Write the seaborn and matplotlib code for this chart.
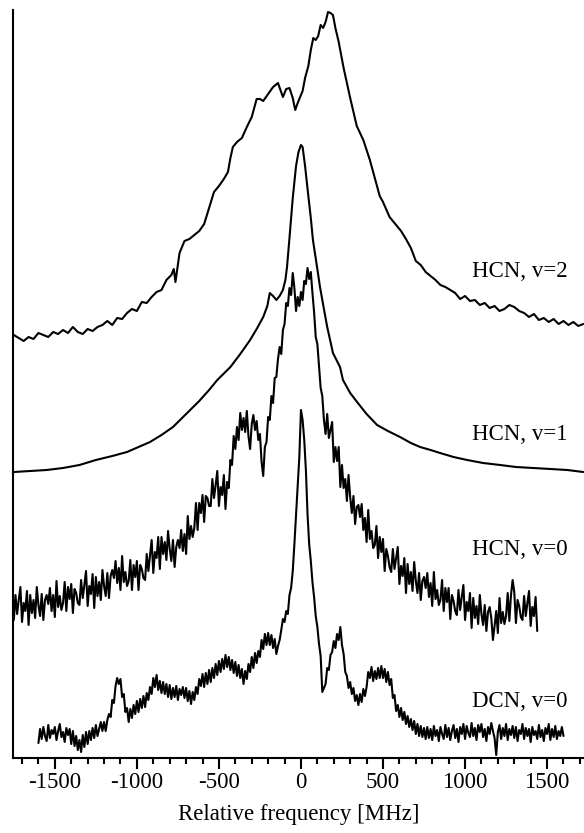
import matplotlib
matplotlib.use("Agg")
import matplotlib.pyplot as plt
import seaborn as sns
from matplotlib.ticker import MultipleLocator

# Spectra: frequency in MHz, intensity in arbitrary units
# (each trace already carries its vertical offset)

# HCN, v=2
v2_freq = [-1750, -1720, -1690, -1660, -1630, -1600, -1570, -1540, -1510, -1480,
           -1450, -1420, -1390, -1360, -1330, -1300, -1270, -1240, -1210, -1180,
           -1150, -1120, -1090, -1060, -1030, -1000, -970, -940, -910, -880,
           -850, -820, -790, -775, -765, -740, -710, -680, -650, -620,
           -590, -560, -530, -500, -470, -445, -430, -415, -390, -360,
           -330, -300, -270, -250, -230, -200, -170, -140, -110, -90,
           -70, -50, -35, -20, -5, 10, 25, 45, 60, 75,
           90, 105, 120, 135, 150, 165, 180, 195, 210, 230,
           260, 300, 340, 380, 420, 460, 480, 500, 540, 580,
           610, 640, 670, 700, 730, 760, 790, 820, 850, 880,
           910, 940, 970, 1000, 1030, 1060, 1090, 1120, 1150, 1180,
           1210, 1240, 1270, 1300, 1330, 1360, 1390, 1420, 1450, 1480,
           1510, 1540, 1570, 1600, 1630, 1660, 1690, 1720]
v2_int = [423, 420, 417, 421, 419, 425, 423, 421, 426, 424,
          428, 425, 431, 426, 424, 429, 427, 431, 433, 437,
          433, 440, 439, 445, 449, 447, 456, 455, 461, 466,
          468, 478, 483, 489, 476, 505, 517, 519, 523, 527,
          534, 550, 566, 572, 579, 586, 600, 611, 616, 620,
          631, 641, 659, 659, 657, 664, 671, 675, 661, 669,
          670, 660, 648, 655, 661, 667, 680, 692, 708, 720,
          718, 722, 733, 730, 736, 746, 745, 743, 730, 716,
          690, 660, 632, 618, 598, 574, 562, 556, 541, 533,
          527, 519, 510, 497, 493, 486, 482, 478, 473, 471,
          468, 465, 459, 462, 457, 458, 453, 455, 450, 452,
          447, 449, 453, 451, 447, 445, 441, 444, 438, 440,
          436, 439, 434, 437, 433, 436, 432, 434]

# HCN, v=1
v1_freq = [-1750, -1650, -1550, -1450, -1350, -1250, -1150, -1060, -990, -920,
           -850, -780, -700, -620, -560, -510, -430, -370, -310, -270,
           -230, -205, -190, -170, -150, -130, -110, -95, -85, -70,
           -50, -30, -15, 0, 10, 25, 45, 60, 73, 98,
           116, 140, 160, 195, 238, 256, 300, 342, 400, 464,
           530, 604, 670, 726, 790, 848, 930, 1013, 1110, 1214,
           1310, 1415, 1520, 1623, 1720]
v1_int = [286, 287, 288, 290, 293, 298, 302, 306, 311, 316,
          323, 331, 344, 357, 368, 378, 391, 404, 418, 429,
          441, 452, 465, 462, 458, 462, 468, 478, 491, 520,
          560, 592, 606, 613, 611, 592, 562, 540, 518, 491,
          471, 449, 431, 405, 391, 378, 365, 356, 344, 333,
          327, 321, 315, 311, 308, 305, 301, 298, 295, 293,
          291, 290, 289, 288, 286]

# HCN, v=0
v0_freq = [-1750, -1740, -1730, -1720, -1710, -1700, -1690, -1680, -1670, -1660,
           -1650, -1640, -1630, -1620, -1610, -1600, -1590, -1580, -1570, -1560,
           -1550, -1540, -1530, -1520, -1510, -1500, -1490, -1480, -1470, -1460,
           -1450, -1440, -1430, -1420, -1410, -1400, -1390, -1380, -1370, -1360,
           -1350, -1340, -1330, -1320, -1310, -1300, -1290, -1280, -1270, -1260,
           -1250, -1240, -1230, -1220, -1210, -1200, -1190, -1180, -1170, -1160,
           -1150, -1140, -1130, -1120, -1110, -1100, -1090, -1080, -1070, -1060,
           -1050, -1040, -1030, -1020, -1010, -1000, -990, -980, -970, -960,
           -950, -940, -930, -920, -910, -900, -890, -880, -870, -860,
           -850, -840, -830, -820, -810, -800, -790, -780, -770, -760,
           -750, -740, -730, -720, -710, -700, -690, -680, -670, -660,
           -650, -640, -630, -620, -610, -600, -590, -580, -570, -560,
           -550, -540, -530, -520, -510, -500, -490, -480, -470, -460,
           -450, -440, -430, -420, -410, -400, -390, -380, -370, -360,
           -350, -340, -330, -320, -310, -300, -290, -280, -270, -260,
           -250, -240, -230, -220, -210, -200, -190, -180, -170, -160,
           -150, -140, -130, -120, -110, -100, -90, -80, -70, -60,
           -50, -40, -30, -20, -10, 0, 10, 20, 30, 40,
           50, 60, 70, 80, 90, 100, 110, 120, 130, 140,
           150, 160, 170, 180, 190, 200, 210, 220, 230, 240,
           250, 260, 270, 280, 290, 300, 310, 320, 330, 340,
           350, 360, 370, 380, 390, 400, 410, 420, 430, 440,
           450, 460, 470, 480, 490, 500, 510, 520, 530, 540,
           550, 560, 570, 580, 590, 600, 610, 620, 630, 640,
           650, 660, 670, 680, 690, 700, 710, 720, 730, 740,
           750, 760, 770, 780, 790, 800, 810, 820, 830, 840,
           850, 860, 870, 880, 890, 900, 910, 920, 930, 940,
           950, 960, 970, 980, 990, 1000, 1010, 1020, 1030, 1040,
           1050, 1060, 1070, 1080, 1090, 1100, 1110, 1120, 1130, 1140,
           1150, 1160, 1170, 1180, 1190, 1200, 1210, 1220, 1230, 1240,
           1250, 1260, 1270, 1280, 1290, 1300, 1310, 1320, 1330, 1340,
           1350, 1360, 1370, 1380, 1390, 1400, 1410, 1420, 1430, 1440]
v0_int = [138, 163, 144, 158, 171, 136, 155, 147, 167, 133,
          163, 145, 158, 140, 171, 153, 142, 164, 138, 158,
          163, 154, 170, 147, 163, 141, 177, 151, 162, 148,
          155, 176, 147, 171, 159, 174, 145, 169, 165, 155,
          153, 178, 160, 173, 187, 152, 172, 164, 184, 150,
          181, 162, 176, 158, 188, 172, 162, 185, 160, 182,
          188, 180, 197, 175, 190, 168, 202, 176, 186, 172,
          177, 198, 168, 193, 181, 197, 168, 193, 189, 180,
          178, 204, 187, 202, 218, 185, 206, 200, 221, 189,
          221, 204, 216, 198, 227, 209, 197, 218, 191, 211,
          218, 210, 228, 207, 224, 204, 242, 219, 232, 221,
          230, 255, 228, 255, 245, 263, 236, 262, 260, 252,
          252, 279, 260, 273, 287, 252, 271, 263, 283, 249,
          276, 270, 298, 293, 322, 309, 331, 318, 345, 328,
          340, 326, 347, 322, 309, 334, 343, 328, 337, 318,
          324, 296, 282, 311, 316, 341, 338, 362, 355, 380,
          381, 399, 411, 404, 428, 434, 455, 452, 470, 463,
          485, 470, 447, 461, 452, 466, 458, 477, 474, 490,
          479, 486, 465, 446, 421, 414, 392, 370, 362, 338,
          324, 344, 320, 328, 336, 296, 311, 297, 311, 271,
          293, 270, 279, 257, 283, 261, 245, 262, 234, 251,
          253, 241, 254, 228, 240, 216, 248, 219, 227, 210,
          213, 232, 200, 221, 206, 219, 187, 209, 202, 191,
          186, 209, 189, 200, 211, 174, 192, 182, 200, 165,
          194, 174, 186, 167, 196, 177, 165, 185, 158, 177,
          181, 170, 185, 161, 175, 152, 186, 159, 168, 153,
          158, 178, 147, 170, 156, 170, 139, 163, 157, 147,
          143, 168, 148, 161, 173, 138, 156, 147, 165, 130,
          160, 140, 152, 134, 163, 144, 133, 153, 127, 146,
          151, 140, 118, 132, 147, 125, 160, 135, 146, 134,
          142, 165, 137, 163, 178, 166, 135, 158, 152, 141,
          138, 162, 142, 155, 167, 132, 151, 142, 161, 127]

# DCN, v=0
dcn_freq = [-1600, -1590, -1580, -1570, -1560, -1550, -1540, -1530, -1520, -1510,
            -1500, -1490, -1480, -1470, -1460, -1450, -1440, -1430, -1420, -1410,
            -1400, -1390, -1380, -1370, -1360, -1350, -1340, -1330, -1320, -1310,
            -1300, -1290, -1280, -1270, -1260, -1250, -1240, -1230, -1220, -1210,
            -1200, -1190, -1180, -1170, -1160, -1150, -1140, -1130, -1120, -1110,
            -1100, -1090, -1080, -1070, -1060, -1050, -1040, -1030, -1020, -1010,
            -1000, -990, -980, -970, -960, -950, -940, -930, -920, -910,
            -900, -890, -880, -870, -860, -850, -840, -830, -820, -810,
            -800, -790, -780, -770, -760, -750, -740, -730, -720, -710,
            -700, -690, -680, -670, -660, -650, -640, -630, -620, -610,
            -600, -590, -580, -570, -560, -550, -540, -530, -520, -510,
            -500, -490, -480, -470, -460, -450, -440, -430, -420, -410,
            -400, -390, -380, -370, -360, -350, -340, -330, -320, -310,
            -300, -290, -280, -270, -260, -250, -240, -230, -220, -210,
            -200, -190, -180, -170, -160, -150, -140, -130, -120, -110,
            -100, -90, -80, -70, -60, -50, -40, -30, -20, -10,
            0, 10, 20, 30, 40, 50, 60, 70, 80, 90,
            100, 110, 120, 130, 140, 150, 160, 170, 180, 190,
            200, 210, 220, 230, 240, 250, 260, 270, 280, 290,
            300, 310, 320, 330, 340, 350, 360, 370, 380, 390,
            400, 410, 420, 430, 440, 450, 460, 470, 480, 490,
            500, 510, 520, 530, 540, 550, 560, 570, 580, 590,
            600, 610, 620, 630, 640, 650, 660, 670, 680, 690,
            700, 710, 720, 730, 740, 750, 760, 770, 780, 790,
            800, 810, 820, 830, 840, 850, 860, 870, 880, 890,
            900, 910, 920, 930, 940, 950, 960, 970, 980, 990,
            1000, 1010, 1020, 1030, 1040, 1050, 1060, 1070, 1080, 1090,
            1100, 1110, 1120, 1130, 1140, 1150, 1160, 1170, 1180, 1190,
            1200, 1210, 1220, 1230, 1240, 1250, 1260, 1270, 1280, 1290,
            1300, 1310, 1320, 1330, 1340, 1350, 1360, 1370, 1380, 1390,
            1400, 1410, 1420, 1430, 1440, 1450, 1460, 1470, 1480, 1490,
            1500, 1510, 1520, 1530, 1540, 1550, 1560, 1570, 1580, 1590,
            1600]
dcn_int = [15, 29, 19, 31, 22, 17, 33, 20, 28, 24,
           31, 18, 27, 34, 21, 26, 16, 30, 23, 29,
           14, 27, 12, 22, 8, 18, 6, 23, 11, 26,
           14, 27, 18, 30, 20, 33, 22, 29, 36, 27,
           36, 27, 38, 44, 41, 58, 55, 72, 80, 74,
           79, 61, 64, 46, 50, 36, 49, 40, 53, 44,
           57, 46, 59, 50, 62, 51, 65, 58, 71, 64,
           80, 71, 83, 68, 77, 65, 76, 64, 74, 61,
           73, 59, 70, 61, 72, 58, 69, 63, 71, 60,
           70, 57, 67, 54, 66, 58, 71, 64, 79, 72,
           84, 71, 85, 74, 88, 76, 90, 80, 94, 83,
           97, 86, 99, 89, 103, 91, 101, 88, 98, 85,
           96, 82, 93, 80, 89, 74, 87, 79, 94, 86,
           101, 90, 105, 95, 107, 101, 118, 109, 124, 113,
           125, 113, 123, 110, 119, 104, 112, 118, 128, 139,
           136, 147, 144, 163, 170, 187, 214, 243, 272, 301,
           348, 338, 318, 288, 244, 214, 197, 176, 161, 142,
           131, 114, 102, 66, 70, 74, 90, 88, 103, 106,
           117, 110, 124, 118, 131, 113, 104, 86, 82, 70,
           76, 64, 70, 57, 63, 53, 64, 56, 69, 62,
           71, 86, 80, 91, 77, 87, 79, 90, 80, 92,
           80, 89, 76, 86, 73, 79, 60, 63, 47, 53,
           41, 50, 38, 46, 34, 42, 31, 39, 28, 37,
           24, 34, 22, 32, 21, 30, 19, 31, 20, 29,
           18, 32, 22, 28, 17, 31, 24, 19, 33, 21,
           30, 18, 27, 33, 20, 29, 16, 31, 24, 34,
           19, 32, 25, 21, 35, 22, 30, 18, 33, 26,
           34, 21, 29, 17, 31, 24, 35, 27, 20, 3,
           26, 33, 19, 30, 22, 34, 18, 29, 23, 32,
           20, 31, 17, 28, 24, 34, 19, 30, 22, 29,
           16, 31, 23, 27, 19, 33, 21, 28, 17, 30,
           24, 34, 18, 29, 21, 32, 19, 27, 22, 31,
           22]

trace_names = ["HCN, v=2", "HCN, v=1", "HCN, v=0", "DCN, v=0"]
freq_ticks = [-1500, -1000, -500, 0, 500, 1000, 1500]

# style
sns.set_theme(style="ticks")
plt.rcParams["font.family"] = ["Liberation Serif", "DejaVu Serif"]
plt.rcParams["axes.unicode_minus"] = False

fig = plt.figure(figsize=(5.84, 8.33), dpi=100)
ax = fig.add_axes([13 / 584, 75 / 833, 571 / 584, 748 / 833])

# draw the four traces
traces = [(v2_freq, v2_int, 1.5), (v1_freq, v1_int, 1.5),
          (v0_freq, v0_int, 1.5), (dcn_freq, dcn_int, 1.5)]
for freq, inten, lw in traces:
    sns.lineplot(x=freq, y=inten, ax=ax, color="black", linewidth=lw,
                 estimator=None, sort=False)

# trace labels, right aligned
label_y = [481, 318, 203, 51]
for name, y in zip(trace_names, label_y):
    ax.text(1625, y, name, ha="right", va="baseline", fontsize=16.5, color="black")

# axes
ax.set_xlim(-1755, 1725)
ax.set_ylim(0, 748)
ax.set_xticks(freq_ticks)
ax.set_xticklabels([str(t) for t in freq_ticks])
ax.xaxis.set_minor_locator(MultipleLocator(100))
ax.set_yticks([])
ax.tick_params(axis="x", which="major", direction="out", length=8, width=1.5,
               labelsize=16.5, pad=2, color="black", labelcolor="black")
ax.tick_params(axis="x", which="minor", direction="out", length=4.5, width=1.5,
               color="black")
ax.set_xlabel("Relative frequency [MHz]", fontsize=16.5, color="black", labelpad=8)
ax.set_ylabel("")

for side in ["top", "right"]:
    ax.spines[side].set_visible(False)
for side in ["left", "bottom"]:
    ax.spines[side].set_linewidth(1.5)
    ax.spines[side].set_color("black")

fig.savefig("out.png", dpi=100, facecolor="white")
